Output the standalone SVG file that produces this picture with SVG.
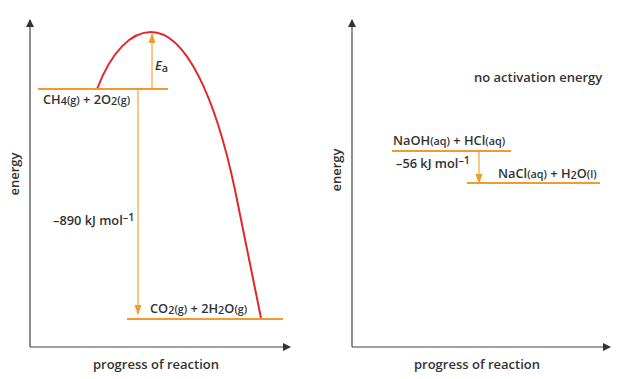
<svg xmlns="http://www.w3.org/2000/svg" width="621" height="379" viewBox="0 0 621 379">
<style>
  text { font-family: "Open Sans", "Liberation Sans", sans-serif; fill: #333; font-weight: 600; }
  .lbl { font-size: 12.8px; }
  .sm { font-size: 10.8px; }
  .ax { font-size: 13px; }
  .axis { stroke: #444; stroke-width: 1.2; fill: none; }
  .lvl { stroke: #F29A2E; stroke-width: 2; fill: none; }
  .arr { stroke: #F5A94A; stroke-width: 1.3; fill: none; }
  .curve { stroke: #E3262B; stroke-width: 2; fill: none; }
</style>
<defs>
  <marker id="ah" markerWidth="8" markerHeight="8" refX="7" refY="4" orient="auto" markerUnits="userSpaceOnUse">
    <path d="M0,0 L8,4 L0,8 z" fill="#333"/>
  </marker>
  <marker id="oh" markerWidth="10" markerHeight="8" refX="9" refY="4" orient="auto" markerUnits="userSpaceOnUse">
    <path d="M0,0.5 L10,4 L0,7.5 z" fill="#F29A2E"/>
  </marker>
</defs>
<rect width="621" height="379" fill="#fff"/>

<g id="left-axes">
  <path class="axis" d="M30,347 L30,20" marker-end="url(#ah)"/>
  <path class="axis" d="M30,347 L290,347" marker-end="url(#ah)"/>
  <text class="ax" transform="translate(19,174) rotate(-90)" text-anchor="middle">energy</text>
  <text class="ax" x="156" y="369" text-anchor="middle">progress of reaction</text>
</g>

<g id="left-curve">
  <path class="curve" d="M97,89 C112,50 132,32 151,32 C185,32 215,95 235,190 C245,240 255,290 261,318"/>
</g>

<g id="reactants-ch4">
  <line class="lvl" x1="38" y1="89" x2="168" y2="89"/>
  <text class="lbl" x="43" y="104">CH<tspan class="sm" dy="1">4</tspan><tspan class="sm" dy="-1">(g)</tspan> + 2O<tspan class="sm" dy="1">2</tspan><tspan class="sm" dy="-1">(g)</tspan></text>
</g>

<g id="products-co2">
  <line class="lvl" x1="127" y1="319" x2="283" y2="319"/>
  <text class="lbl" x="150" y="313">CO<tspan class="sm" dy="1">2</tspan><tspan class="sm" dy="-1">(g)</tspan> + 2H<tspan class="sm" dy="1">2</tspan><tspan dy="-1">O</tspan><tspan class="sm">(g)</tspan></text>
</g>

<g id="connectors">
  <path class="arr" d="M152,88 L152,34" marker-end="url(#oh)"/>
  <path class="arr" d="M138,90 L138,314" marker-end="url(#oh)"/>
  <path class="arr" d="M479,151 L479,183" marker-end="url(#oh)"/>
</g>

<g id="ea-label">
  <text class="lbl" x="155" y="70" font-style="italic">E<tspan class="sm" dy="2" font-style="normal">a</tspan></text>
</g>

<g id="dh-left">
  <text class="lbl" x="53" y="225">–890 kJ mol<tspan class="sm" dy="-4">–1</tspan></text>
</g>

<g id="right-axes">
  <path class="axis" d="M352,347 L352,20" marker-end="url(#ah)"/>
  <path class="axis" d="M352,347 L610,347" marker-end="url(#ah)"/>
  <text class="ax" transform="translate(341,170) rotate(-90)" text-anchor="middle">energy</text>
  <text class="ax" x="477" y="369" text-anchor="middle">progress of reaction</text>
</g>

<g id="no-ea">
  <text class="ax" x="474" y="82">no activation energy</text>
</g>

<g id="reactants-naoh">
  <line class="lvl" x1="392" y1="151" x2="511" y2="151"/>
  <text class="lbl" x="393" y="145">NaOH<tspan class="sm">(aq)</tspan> + HCl<tspan class="sm">(aq)</tspan></text>
</g>

<g id="products-nacl">
  <line class="lvl" x1="467" y1="183" x2="600" y2="183"/>
  <text class="lbl" x="498" y="178">NaCl<tspan class="sm">(aq)</tspan> + H<tspan class="sm" dy="1">2</tspan><tspan dy="-1">O</tspan><tspan class="sm">(l)</tspan></text>
</g>

<g id="dh-right">
  <text class="lbl" x="396" y="168">–56 kJ mol<tspan class="sm" dy="-4">–1</tspan></text>
</g>
</svg>
